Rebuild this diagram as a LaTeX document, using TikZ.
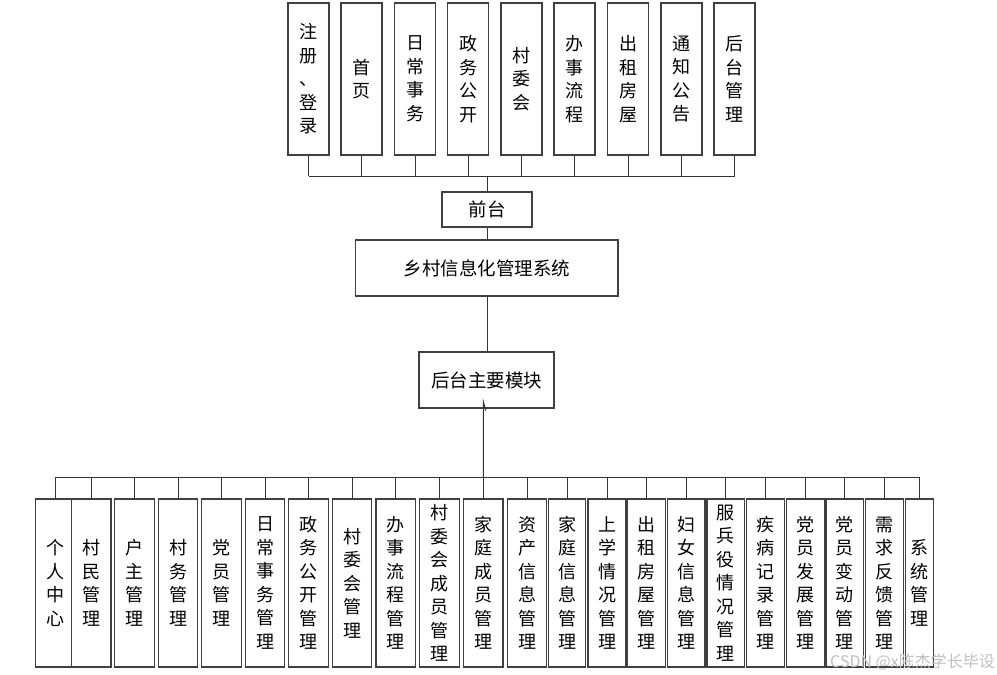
\documentclass[tikz,border=0pt]{standalone}
\usepackage{fontspec}
\newfontfamily\cjk{Noto Sans CJK SC}
\usetikzlibrary{arrows.meta}
\tikzset{
  box/.style={draw=black!75, line width=1.1pt, fill=white, rectangle, inner sep=0pt, align=center,
    font=\cjk\fontsize{18}{23.5}\selectfont},
  hbox/.style={box, font=\cjk\fontsize{18.5}{23}\selectfont},
  conn/.style={draw=black!80, line width=1pt}
}
\newcommand{\mkbox}[7][box]{\node[#1, minimum width={(#4-#3)*1pt}, minimum height={(#6-#5)*1pt}] (#2) at ({(#3+#4)/2},{(#5+#6)/2}) {#7};}
\begin{document}
\begin{tikzpicture}[x=1pt,y=-1pt]
\useasboundingbox (0,0) rectangle (997,675);
% top boxes
\mkbox{t1}{288}{329}{3}{155}{注\\册\\、\\登\\录}
\mkbox{t2}{341}{382}{3}{155}{首\\页}
\mkbox{t3}{394.5}{435.5}{3}{155}{日\\常\\事\\务}
\mkbox{t4}{447.5}{488.5}{3}{155}{政\\务\\公\\开}
\mkbox{t5}{501}{542}{3}{155}{村\\委\\会}
\mkbox{t6}{554}{595}{3}{155}{办\\事\\流\\程}
\mkbox{t7}{607.5}{648.5}{3}{155}{出\\租\\房\\屋}
\mkbox{t8}{661}{702}{3}{155}{通\\知\\公\\告}
\mkbox{t9}{714}{755}{3}{155}{后\\台\\管\\理}
\coordinate (tbus) at (0,176);
\foreach \i in {1,...,9} {\draw[conn] (t\i.south) -- (t\i.south |- tbus);}
\draw[conn] (t1.south |- tbus) -- (t9.south |- tbus);
% middle
\mkbox[hbox]{qt}{442}{532}{192}{227}{前台}
\mkbox[hbox]{sys}{355.7}{618}{240}{296}{乡村信息化管理系统}
\mkbox[hbox]{ht}{419}{554}{352}{408}{后台主要模块}
\draw[conn] (qt.north |- tbus) -- (qt.north);
\draw[conn] (qt.south) -- (sys.north -| qt.south);
\draw[conn] (sys.south -| qt.south) -- (ht.north -| qt.south);
% bottom boxes
\mkbox{b1}{35.7}{75}{499}{667}{个\\人\\中\\心}
\mkbox{b2}{71.7}{111}{499}{667}{村\\民\\管\\理}
\mkbox{b3}{114.7}{154.3}{499}{667}{户\\主\\管\\理}
\mkbox{b4}{158.3}{197.7}{499}{667}{村\\务\\管\\理}
\mkbox{b5}{201.7}{241.3}{499}{667}{党\\员\\管\\理}
\mkbox{b6}{245.3}{284.7}{499}{667}{日\\常\\事\\务\\管\\理}
\mkbox{b7}{288.7}{328.3}{499}{667}{政\\务\\公\\开\\管\\理}
\mkbox{b8}{332.3}{371.7}{499}{667}{村\\委\\会\\管\\理}
\mkbox{b9}{376}{415.3}{499}{667}{办\\事\\流\\程\\管\\理}
\mkbox{b10}{419.7}{459.3}{499}{667}{村\\委\\会\\成\\员\\管\\理}
\mkbox{b11}{463.7}{503}{499}{667}{家\\庭\\成\\员\\管\\理}
\mkbox{b12}{507.3}{546.7}{499}{667}{资\\产\\信\\息\\管\\理}
\mkbox{b13}{548.3}{585.7}{499}{667}{家\\庭\\信\\息\\管\\理}
\mkbox{b14}{588}{626}{499}{667}{上\\学\\情\\况\\管\\理}
\mkbox{b15}{627.7}{665.3}{499}{667}{出\\租\\房\\屋\\管\\理}
\mkbox{b16}{667.3}{705}{499}{667}{妇\\女\\信\\息\\管\\理}
\mkbox{b17}{707}{744.7}{499}{667}{服\\兵\\役\\情\\况\\管\\理}
\mkbox{b18}{746.7}{784.3}{499}{667}{疾\\病\\记\\录\\管\\理}
\mkbox{b19}{786.3}{824.3}{499}{667}{党\\员\\发\\展\\管\\理}
\mkbox{b20}{826}{863.7}{499}{667}{党\\员\\变\\动\\管\\理}
\mkbox{b21}{865.7}{903.3}{499}{667}{需\\求\\反\\馈\\管\\理}
\mkbox{b22}{905.3}{933.3}{499}{667}{系\\统\\管\\理}
\coordinate (bbus) at (0,477);
\foreach \i in {1,...,22} {\draw[conn] (b\i.north) -- (b\i.north |- bbus);}
\draw[conn] (b1.north |- bbus) -- (b22.north |- bbus);
\coordinate (tip) at (483.3,398);
\draw[conn, -{Straight Barb[right, length=9pt, width=5pt]}] (b11.north |- bbus) -- (tip);
% watermark
\node[font=\cjk\fontsize{16}{16}\selectfont, text=black!25, anchor=base east, inner sep=0pt] (wm) at (995,667) {CSDN @x陈杰学长毕设};
\end{tikzpicture}
\end{document}
